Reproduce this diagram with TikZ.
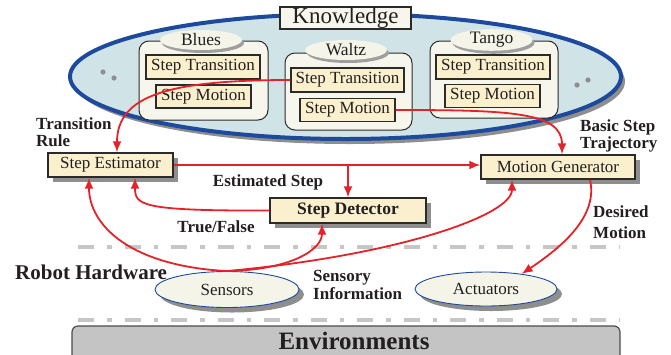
\documentclass[tikz,border=0pt]{standalone}
\usepackage{fontspec}
\setmainfont{Liberation Serif}
\usetikzlibrary{shapes.geometric,shadows,arrows.meta,calc}
\definecolor{txtc}{HTML}{231F20}
\definecolor{linec}{HTML}{2A2A2A}
\definecolor{boxfill}{HTML}{FBF0CE}
\definecolor{grpfill}{HTML}{F7F6EC}
\definecolor{lblfill}{HTML}{F4F4E8}
\definecolor{kfill}{HTML}{D0E3E7}
\definecolor{bluec}{HTML}{1D4A9C}
\definecolor{shadc}{HTML}{8E8E8E}
\definecolor{redc}{HTML}{E52229}
\definecolor{dashc}{HTML}{C6C6C6}
\definecolor{envfill}{HTML}{C4C4C4}
\begin{document}
\begin{tikzpicture}[x=1pt,y=-1pt,
  txt/.style={text=txtc, font=\fontsize{17}{19}\selectfont},
  stepbox/.style={rectangle, draw=linec, line width=1.4pt, fill=boxfill, inner sep=0pt, minimum height=23pt, txt},
  mainbox/.style={stepbox, minimum height=24pt, drop shadow={shadow xshift=5pt, shadow yshift=-5pt, fill=shadc, opacity=1}},
  grp/.style={rectangle, rounded corners=10pt, draw=linec, line width=1pt, fill=grpfill, inner sep=0pt},
  lbl/.style={ellipse, fill=lblfill, inner sep=0pt, minimum width=82pt, minimum height=20pt, txt, font=\fontsize{17.5}{19}\selectfont, drop shadow={shadow xshift=2pt, shadow yshift=-3pt, fill=shadc!85, opacity=1}},
  hw/.style={ellipse, draw=bluec, line width=0.9pt, fill=lblfill, inner sep=0pt, minimum width=143pt, minimum height=35pt, txt, drop shadow={shadow xshift=5pt, shadow yshift=-5pt, fill=shadc, opacity=1}},
  blab/.style={font=\fontsize{17}{17.5}\bfseries, text=txtc, align=left, inner sep=0pt},
  arr/.style={draw=redc, line width=1.8pt, -{Latex[length=11pt,width=9pt]}},
  dd/.style={draw=dashc, line width=4pt, dash pattern=on 16pt off 13pt on 4.5pt off 13pt},
  dotc/.style={fill=shadc}
]
\useasboundingbox (0,0) rectangle (671,354);

% knowledge ellipse
\node[ellipse, draw=bluec, line width=4pt, fill=kfill, inner sep=0pt,
      minimum width=551pt, minimum height=125pt,
      drop shadow={shadow xshift=4pt, shadow yshift=-5pt, fill=shadc, opacity=1}] (kell) at (345.5,76.5) {};
\node[rectangle, draw=linec, line width=1.2pt, fill=grpfill, inner sep=0pt,
      minimum width=131pt, minimum height=22pt, text=txtc, font=\fontsize{23}{25}\selectfont] (know) at (345.5,18) {Knowledge};

% dots
\fill[dotc] (103,72) circle (2.6);
\fill[dotc] (114,78) circle (2.6);
\fill[dotc] (577,85) circle (2.6);
\fill[dotc] (588,80) circle (2.6);

% groups
\node[grp, minimum width=129pt, minimum height=79pt] (gblues) at (203.5,80.5) {};
\node[grp, minimum width=127pt, minimum height=77pt] (gwaltz) at (348.5,91.5) {};
\node[grp, minimum width=128pt, minimum height=77pt] (gtango) at (494,79.5) {};
\node[lbl] (lblues) at (201,40) {Blues};
\node[lbl] (lwaltz) at (346,50) {Waltz};
\node[lbl] (ltango) at (491.5,40) {Tango};

\node[stepbox, minimum width=114pt, minimum height=24pt] (bst) at (203,67) {Step Transition};
\node[stepbox, minimum width=95pt] (bsm) at (203.5,96.5) {Step Motion};
\node[stepbox, minimum width=113pt, minimum height=24pt] (wst) at (347.5,80) {Step Transition};
\node[stepbox, minimum width=95pt] (wsm) at (347.5,110) {Step Motion};
\node[stepbox, minimum width=114pt, minimum height=24pt] (tst) at (493,67) {Step Transition};
\node[stepbox, minimum width=95pt] (tsm) at (492.5,96) {Step Motion};

% main boxes
\node[mainbox, minimum width=125pt] (se) at (110.5,165) {Step Estimator};
\node[mainbox, minimum width=154pt] (mg) at (558,167) {Motion Generator};
\node[mainbox, minimum width=156pt, minimum height=25pt, font=\fontsize{17.5}{19}\bfseries] (sd) at (348,210.5) {Step Detector};

% labels
\node[blab, anchor=west] (ltr) at (36,132) {Transition\\Rule};
\node[blab, anchor=west] (lbs) at (580,136) {Basic Step\\Trajectory};
\node[blab] (lest) at (268,182) {Estimated Step};
\node[blab] (ltf) at (216,227) {True/False};
\node[blab, anchor=west, font=\fontsize{17}{21}\bfseries] (ldm) at (593,222.5) {Desired\\Motion};
\node[blab, anchor=west] (lsi) at (313,285) {Sensory\\Information};
\node[blab, anchor=west, font=\fontsize{21}{23}\bfseries] (lrh) at (15,272) {Robot Hardware};

% dash-dot separators
\draw[dd] (78,247) -- (620,247);
\draw[dd] (78,320) -- (620,320);

% hardware
\node[hw, minimum width=144pt, minimum height=36pt] (sens) at (227,289.5) {Sensors};
\node[hw, minimum width=142pt, minimum height=34pt] (act) at (486,289) {Actuators};

% environment
\node[rectangle, rounded corners=6pt, draw=black!70, line width=1.2pt, fill=envfill,
      minimum width=548pt, minimum height=40pt, inner sep=0pt] (env) at (346,346) {};
\node[font=\fontsize{25}{27}\bfseries, text=txtc, inner sep=0pt] (envt) at (354,341) {Environments};

% connectors
\coordinate (br) at (se.east -| sd.north);
\draw[arr] (wst.west) .. controls (170,80) and (117,95) .. ([xshift=6.5pt]se.north);
\draw[arr] (wsm.east) .. controls (510,110) and (562,112) .. ([xshift=4pt]mg.north);
\draw[arr] (se.east) -- (se.east -| mg.west);
\draw[arr] (br) -- (sd.north);
\draw[arr] (sd.west) .. controls (140,211) and (135,205) .. ([xshift=24.5pt]se.south);
\draw[arr] (sens.north) .. controls (130,266) and (89,225) .. ([xshift=-21.5pt]se.south);
\draw[arr] (sens.north) .. controls (290,270) and (322,250) .. ([xshift=-26pt]sd.south);
\draw[arr] (sens.north) .. controls (400,255) and (512,215) .. ([xshift=-46pt]mg.south);
\draw[arr] ([xshift=32pt]mg.south) .. controls (598,215) and (565,245) .. (act.23);
\end{tikzpicture}
\end{document}
